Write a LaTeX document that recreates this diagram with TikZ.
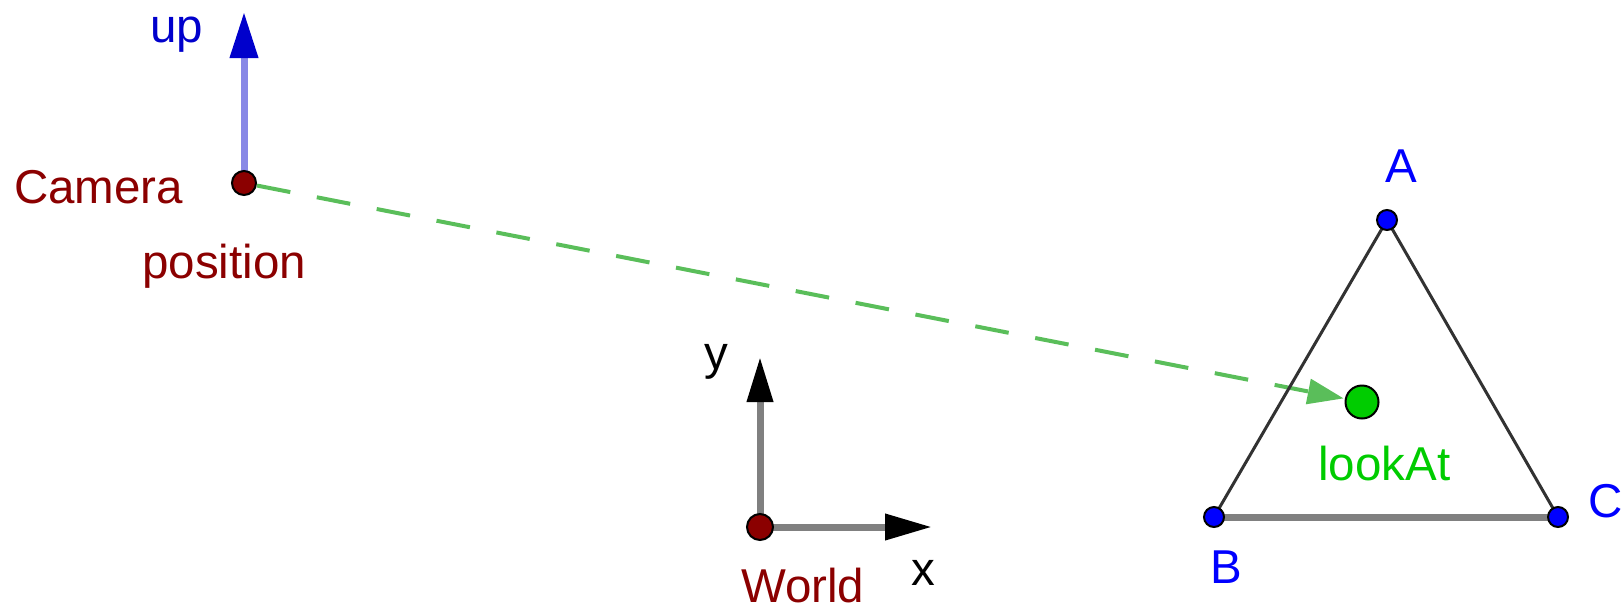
\documentclass[tikz,border=0pt]{standalone}
\usepackage{fontspec}
\setmainfont{Liberation Sans}
\usetikzlibrary{arrows.meta}
\definecolor{dred}{RGB}{139,0,0}
\definecolor{upblue}{RGB}{136,136,230}
\definecolor{headblue}{RGB}{0,0,204}
\definecolor{ptblue}{RGB}{0,0,255}
\definecolor{lgreen}{RGB}{90,190,90}
\definecolor{pgreen}{RGB}{0,204,0}
\definecolor{axgray}{RGB}{128,128,128}
\definecolor{edge}{RGB}{50,50,50}
\tikzset{
  lbl/.style={inner sep=0pt, anchor=base west, font=\fontsize{47.5}{50}\selectfont},
  dot/.style={circle, draw=black, line width=2pt, inner sep=0pt, minimum size=#1},
}
\begin{document}
\begin{tikzpicture}[x=1pt,y=-1pt]
\useasboundingbox (0,0) rectangle (1624,611);
% positions
\coordinate (camc) at (244,183);
\coordinate (uptip) at (244,12);
\coordinate (worldc) at (760,527);
\coordinate (xtip) at (932,527);
\coordinate (ytip) at (760,357);
\coordinate (Ac) at (1387,220);
\coordinate (Bc) at (1214,517);
\coordinate (Cc) at (1558,517);
\coordinate (lookc) at (1362,402);
% point nodes (invisible shapes for connector ends)
\node[circle, inner sep=0pt, minimum size=26pt] (cam) at (camc) {};
\node[circle, inner sep=0pt, minimum size=28pt] (world) at (worldc) {};
\node[circle, inner sep=0pt, minimum size=22pt] (A) at (Ac) {};
\node[circle, inner sep=0pt, minimum size=22pt] (B) at (Bc) {};
\node[circle, inner sep=0pt, minimum size=22pt] (C) at (Cc) {};
\node[circle, inner sep=0pt, minimum size=37pt] (look) at (lookc) {};
% connectors
\draw[upblue, line width=7pt, -{Triangle[length=46pt, width=27pt, color=headblue]}] (camc) -- (uptip);
\draw[lgreen, line width=4pt, dash pattern=on 34pt off 27pt, -{Triangle[length=36pt, width=25pt, color=lgreen]}] (cam) -- (look);
\draw[axgray, line width=7pt, -{Triangle[length=47pt, width=25pt, color=black]}] (worldc) -- (xtip);
\draw[axgray, line width=7pt, -{Triangle[length=45pt, width=25pt, color=black]}] (worldc) -- (ytip);
\draw[edge, line width=3pt] (Ac) -- (Bc);
\draw[edge, line width=3pt] (Ac) -- (Cc);
\draw[axgray, line width=7pt] (Bc) -- (Cc);
% dots
\node[dot=24pt, fill=dred] at (camc) {};
\node[dot=26pt, fill=dred] at (worldc) {};
\node[dot=20pt, fill=ptblue] at (Ac) {};
\node[dot=20pt, fill=ptblue] at (Bc) {};
\node[dot=20pt, fill=ptblue] at (Cc) {};
\node[dot=33pt, fill=pgreen] at (lookc) {};
% labels
\node[lbl, text=headblue] (uplbl) at (150,42) {up};
\node[lbl, text=dred] (camlbl) at (14,203) {Camera};
\node[lbl, text=dred] (poslbl) at (142,278) {position};
\node[lbl, text=dred] (worldlbl) at (741,602) {World};
\node[lbl, text=black] (xlbl) at (911,585) {x};
\node[lbl, text=black] (ylbl) at (704,369) {y};
\node[lbl, text=ptblue] (Albl) at (1385,182) {A};
\node[lbl, text=ptblue] (Blbl) at (1210,583) {B};
\node[lbl, text=ptblue] (Clbl) at (1588,517) {C};
\node[lbl, text=pgreen] (looklbl) at (1318,480) {lookAt};
\end{tikzpicture}
\end{document}
